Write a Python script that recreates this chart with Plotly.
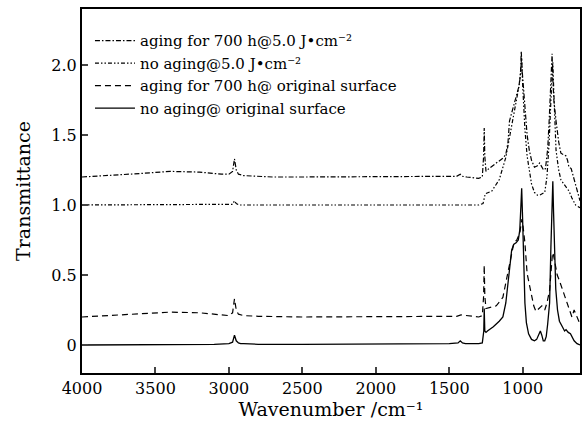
import plotly.graph_objects as go

# no aging @ original surface (solid)
w_solid = [4000, 3500, 3100, 3000, 2975, 2962, 2950, 2935, 2920, 2900, 2800, 2500, 2000, 1500,
           1440, 1425, 1410, 1390, 1300, 1275, 1265, 1262, 1258, 1250, 1240, 1200, 1160, 1135,
           1115, 1100, 1085, 1075, 1060, 1045, 1030, 1020, 1012, 1007, 1002, 995, 985, 975, 960,
           940, 920, 905, 890, 880, 870, 860, 850, 840, 830, 817, 808, 800, 795, 790, 783, 775,
           763, 750, 730, 715, 705, 690, 675, 665, 650, 630, 610]
t_solid = [0.0, 0.0, 0.005, 0.01, 0.02, 0.07, 0.03, 0.015, 0.01, 0.01, 0.005, 0.005, 0.005, 0.01,
           0.015, 0.03, 0.015, 0.01, 0.01, 0.015, 0.1, 0.26, 0.1, 0.09, 0.1, 0.13, 0.17, 0.2,
           0.3, 0.44, 0.6, 0.68, 0.72, 0.73, 0.75, 0.82, 1.0, 1.12, 0.95, 0.62, 0.3, 0.16, 0.08,
           0.04, 0.03, 0.04, 0.08, 0.1, 0.07, 0.03, 0.03, 0.06, 0.15, 0.3, 0.7, 1.1, 1.17, 0.95,
           0.66, 0.4, 0.25, 0.17, 0.13, 0.1, 0.11, 0.09, 0.08, 0.06, 0.03, 0.01, 0.0]

# aging for 700 h @ original surface (dashed)
w_dash = [4000, 3800, 3600, 3400, 3200, 3050, 3000, 2975, 2962, 2950, 2935, 2900, 2800, 2500,
          2000, 1600, 1450, 1420, 1300, 1275, 1266, 1262, 1258, 1250, 1220, 1180, 1135, 1110,
          1085, 1060, 1040, 1020, 1010, 1005, 998, 985, 970, 945, 925, 910, 890, 870, 850, 835,
          817, 805, 797, 790, 780, 765, 750, 730, 710, 695, 680, 665, 650, 630, 610]
t_dash = [0.2, 0.21, 0.225, 0.235, 0.23, 0.215, 0.21, 0.23, 0.33, 0.25, 0.22, 0.21, 0.205, 0.2,
          0.2, 0.2, 0.205, 0.215, 0.2, 0.21, 0.35, 0.57, 0.35, 0.26, 0.27, 0.28, 0.34, 0.47,
          0.62, 0.73, 0.75, 0.8, 0.87, 0.9, 0.85, 0.73, 0.51, 0.37, 0.28, 0.24, 0.26, 0.28, 0.25,
          0.3, 0.39, 0.55, 0.66, 0.64, 0.58, 0.5, 0.46, 0.4, 0.34, 0.3, 0.24, 0.2, 0.25, 0.2, 0.15]

# no aging @ 5.0 J/cm2 (dash-dot-dot)
w_noag5 = [4000, 3500, 3000, 2975, 2962, 2950, 2930, 2900, 2500, 2000, 1500, 1300, 1270, 1262,
           1255, 1210, 1160, 1115, 1090, 1065, 1040, 1025, 1015, 1008, 1000, 985, 970, 955, 940,
           920, 900, 885, 865, 850, 835, 820, 808, 800, 795, 788, 773, 755, 740, 720, 705, 685,
           665, 640, 610]
t_noag5 = [1.0, 1.0, 1.0, 1.005, 1.03, 1.01, 1.0, 1.0, 1.0, 1.0, 1.0, 1.0, 1.01, 1.06,
           1.08, 1.1, 1.18, 1.34, 1.48, 1.62, 1.75, 1.85, 1.95, 2.05, 1.85, 1.54, 1.35, 1.23, 1.15,
           1.09, 1.07, 1.07, 1.08, 1.09, 1.2, 1.45, 1.75, 1.98, 2.02, 1.8, 1.39, 1.25, 1.18, 1.15,
           1.13, 1.1, 1.05, 1.0, 0.98]

# aging for 700 h @ 5.0 J/cm2 (dash-dot)
w_ag5 = [4000, 3800, 3600, 3400, 3200, 3050, 3000, 2975, 2962, 2950, 2935, 2900, 2700, 2500,
         2000, 1600, 1450, 1425, 1410, 1380, 1300, 1275, 1266, 1262, 1258, 1250, 1230, 1180,
         1140, 1115, 1100, 1090, 1065, 1040, 1025, 1015, 1010, 1003, 995, 985, 970, 955, 940,
         920, 900, 885, 870, 858, 845, 830, 820, 808, 800, 795, 788, 773, 755, 740, 720, 705,
         695, 685, 670, 655, 640, 625, 610]
t_ag5 = [1.2, 1.21, 1.225, 1.24, 1.235, 1.22, 1.22, 1.24, 1.33, 1.25, 1.22, 1.21, 1.2, 1.2,
         1.2, 1.2, 1.205, 1.22, 1.205, 1.2, 1.19, 1.2, 1.35, 1.55, 1.35, 1.24, 1.26, 1.3,
         1.33, 1.36, 1.45, 1.6, 1.7, 1.8, 1.85, 1.93, 2.1, 1.95, 1.85, 1.7, 1.5, 1.39, 1.32,
         1.27, 1.28, 1.3, 1.27, 1.25, 1.26, 1.4, 1.6, 1.85, 2.08, 1.9, 1.75, 1.6, 1.45, 1.37,
         1.36, 1.35, 1.32, 1.27, 1.26, 1.2, 1.15, 1.08, 1.03]

x_ticks = [4000, 3500, 3000, 2500, 2000, 1500, 1000]
y_ticks = [0, 0.5, 1.0, 1.5, 2.0]
y_ticklabels = ["0", "0.5", "1.0", "1.5", "2.0"]

serif = "DejaVu Serif, serif"

fig = go.Figure()
fig.add_trace(go.Scatter(x=w_ag5, y=t_ag5, mode="lines",
                         name="aging for 700 h@5.0 J•cm⁻²",
                         line=dict(color="black", width=1.2, dash="5px,2px,1.5px,2px")))
fig.add_trace(go.Scatter(x=w_noag5, y=t_noag5, mode="lines",
                         name="no aging@5.0 J•cm⁻²",
                         line=dict(color="black", width=1.2,
                                   dash="4px,2px,1.5px,2px,1.5px,2px")))
fig.add_trace(go.Scatter(x=w_dash, y=t_dash, mode="lines",
                         name="aging for 700 h@ original surface",
                         line=dict(color="black", width=1.2, dash="6px,4px")))
fig.add_trace(go.Scatter(x=w_solid, y=t_solid, mode="lines",
                         name="no aging@ original surface",
                         line=dict(color="black", width=1.3)))

fig.update_layout(
    width=584, height=421,
    margin=dict(l=82, r=4, t=9, b=48),
    paper_bgcolor="white", plot_bgcolor="white",
    font=dict(family=serif, size=16, color="black"),
    showlegend=True,
    legend=dict(x=0.016, y=0.958, xanchor="left", yanchor="top",
                bgcolor="rgba(0,0,0,0)", font=dict(size=15),
                tracegroupgap=0, itemwidth=40),
    xaxis=dict(range=[4000, 610], tickvals=x_ticks, ticks="inside", ticklen=6,
               tickwidth=1.5, showline=True, linewidth=2, linecolor="black",
               mirror=True, showgrid=False, zeroline=False, automargin=False,
               title=dict(text="Wavenumber /cm⁻¹", standoff=0),
               tickfont=dict(size=16)),
    yaxis=dict(range=[-0.2, 2.4], tickvals=y_ticks, ticktext=y_ticklabels,
               ticks="inside", ticklen=6, tickwidth=1.5, showline=True,
               linewidth=2, linecolor="black", mirror=True, showgrid=False,
               zeroline=False, automargin=False,
               title=dict(text="Transmittance", standoff=16),
               tickfont=dict(size=16)),
)

# the page body has a default 8px margin; drop it so the figure fills the window
fig.write_html("out.html", config={"displayModeBar": False},
               post_script="document.body.style.margin='0';document.body.style.overflow='hidden';")
